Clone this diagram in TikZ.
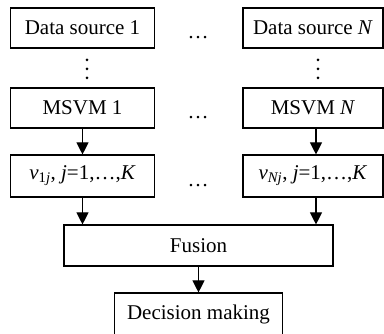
\documentclass[tikz,border=0pt]{standalone}
\usepackage{fontspec}
\setmainfont{Liberation Serif}
\usetikzlibrary{arrows.meta}
\begin{document}
\begin{tikzpicture}[x=1pt,y=-1pt,
  blk/.style={draw,line width=1.1pt,inner sep=0pt,font=\fontsize{21}{25}\selectfont},
  arr/.style={line width=1.1pt,-{Triangle[width=12pt,length=12pt]}},
  dt/.style={font=\fontsize{21}{25}\selectfont,inner sep=0pt,anchor=base},
  vdot/.style={fill,circle,inner sep=0pt,minimum size=3pt}]
\useasboundingbox (0,0) rectangle (384,334);
\node[blk,minimum width=144pt,minimum height=40pt] (ds1) at (82.5,28) {Data source 1};
\node[blk,minimum width=140pt,minimum height=40pt] (dsN) at (313,28) {Data source \textit{N}};
\node[blk,minimum width=144pt,minimum height=40pt] (m1) at (82.5,108) {MSVM 1};
\node[blk,minimum width=140pt,minimum height=40pt] (mN) at (313,108) {MSVM \textit{N}};
\node[blk,minimum width=144pt,minimum height=42pt] (v1) at (82.5,176) {\textit{v}\textsubscript{1\textit{j}}, \textit{j}=1,…,\textit{K}};
\node[blk,minimum width=140pt,minimum height=42pt] (vN) at (313,176) {\textit{v}\textsubscript{\textit{Nj}}, \textit{j}=1,…,\textit{K}};
\node[blk,minimum width=269pt,minimum height=41pt] (fu) at (198.5,245.5) {Fusion};
\node[blk,minimum width=168pt,minimum height=42pt] (dm) at (198.5,314) {Decision making};
\node[dt] (e1) at (198,39) {…};
\node[dt] (e2) at (198,119) {…};
\node[dt] (e3) at (198,187) {…};
\foreach \y [count=\i] in {60,69,78} {
  \node[vdot] (la\i) at (87,\y) {};
  \node[vdot] (ra\i) at (318,\y) {};
}
\draw[arr] (m1.south) -- (v1.north);
\draw[arr] ([xshift=3pt]mN.south) -- ([xshift=3pt]vN.north);
\draw[arr] (v1.south) -- (v1.south |- fu.north);
\draw[arr] ([xshift=3pt]vN.south) -- ([xshift=3pt]vN.south |- fu.north);
\draw[arr] (fu.south) -- (dm.north);
\end{tikzpicture}
\end{document}
